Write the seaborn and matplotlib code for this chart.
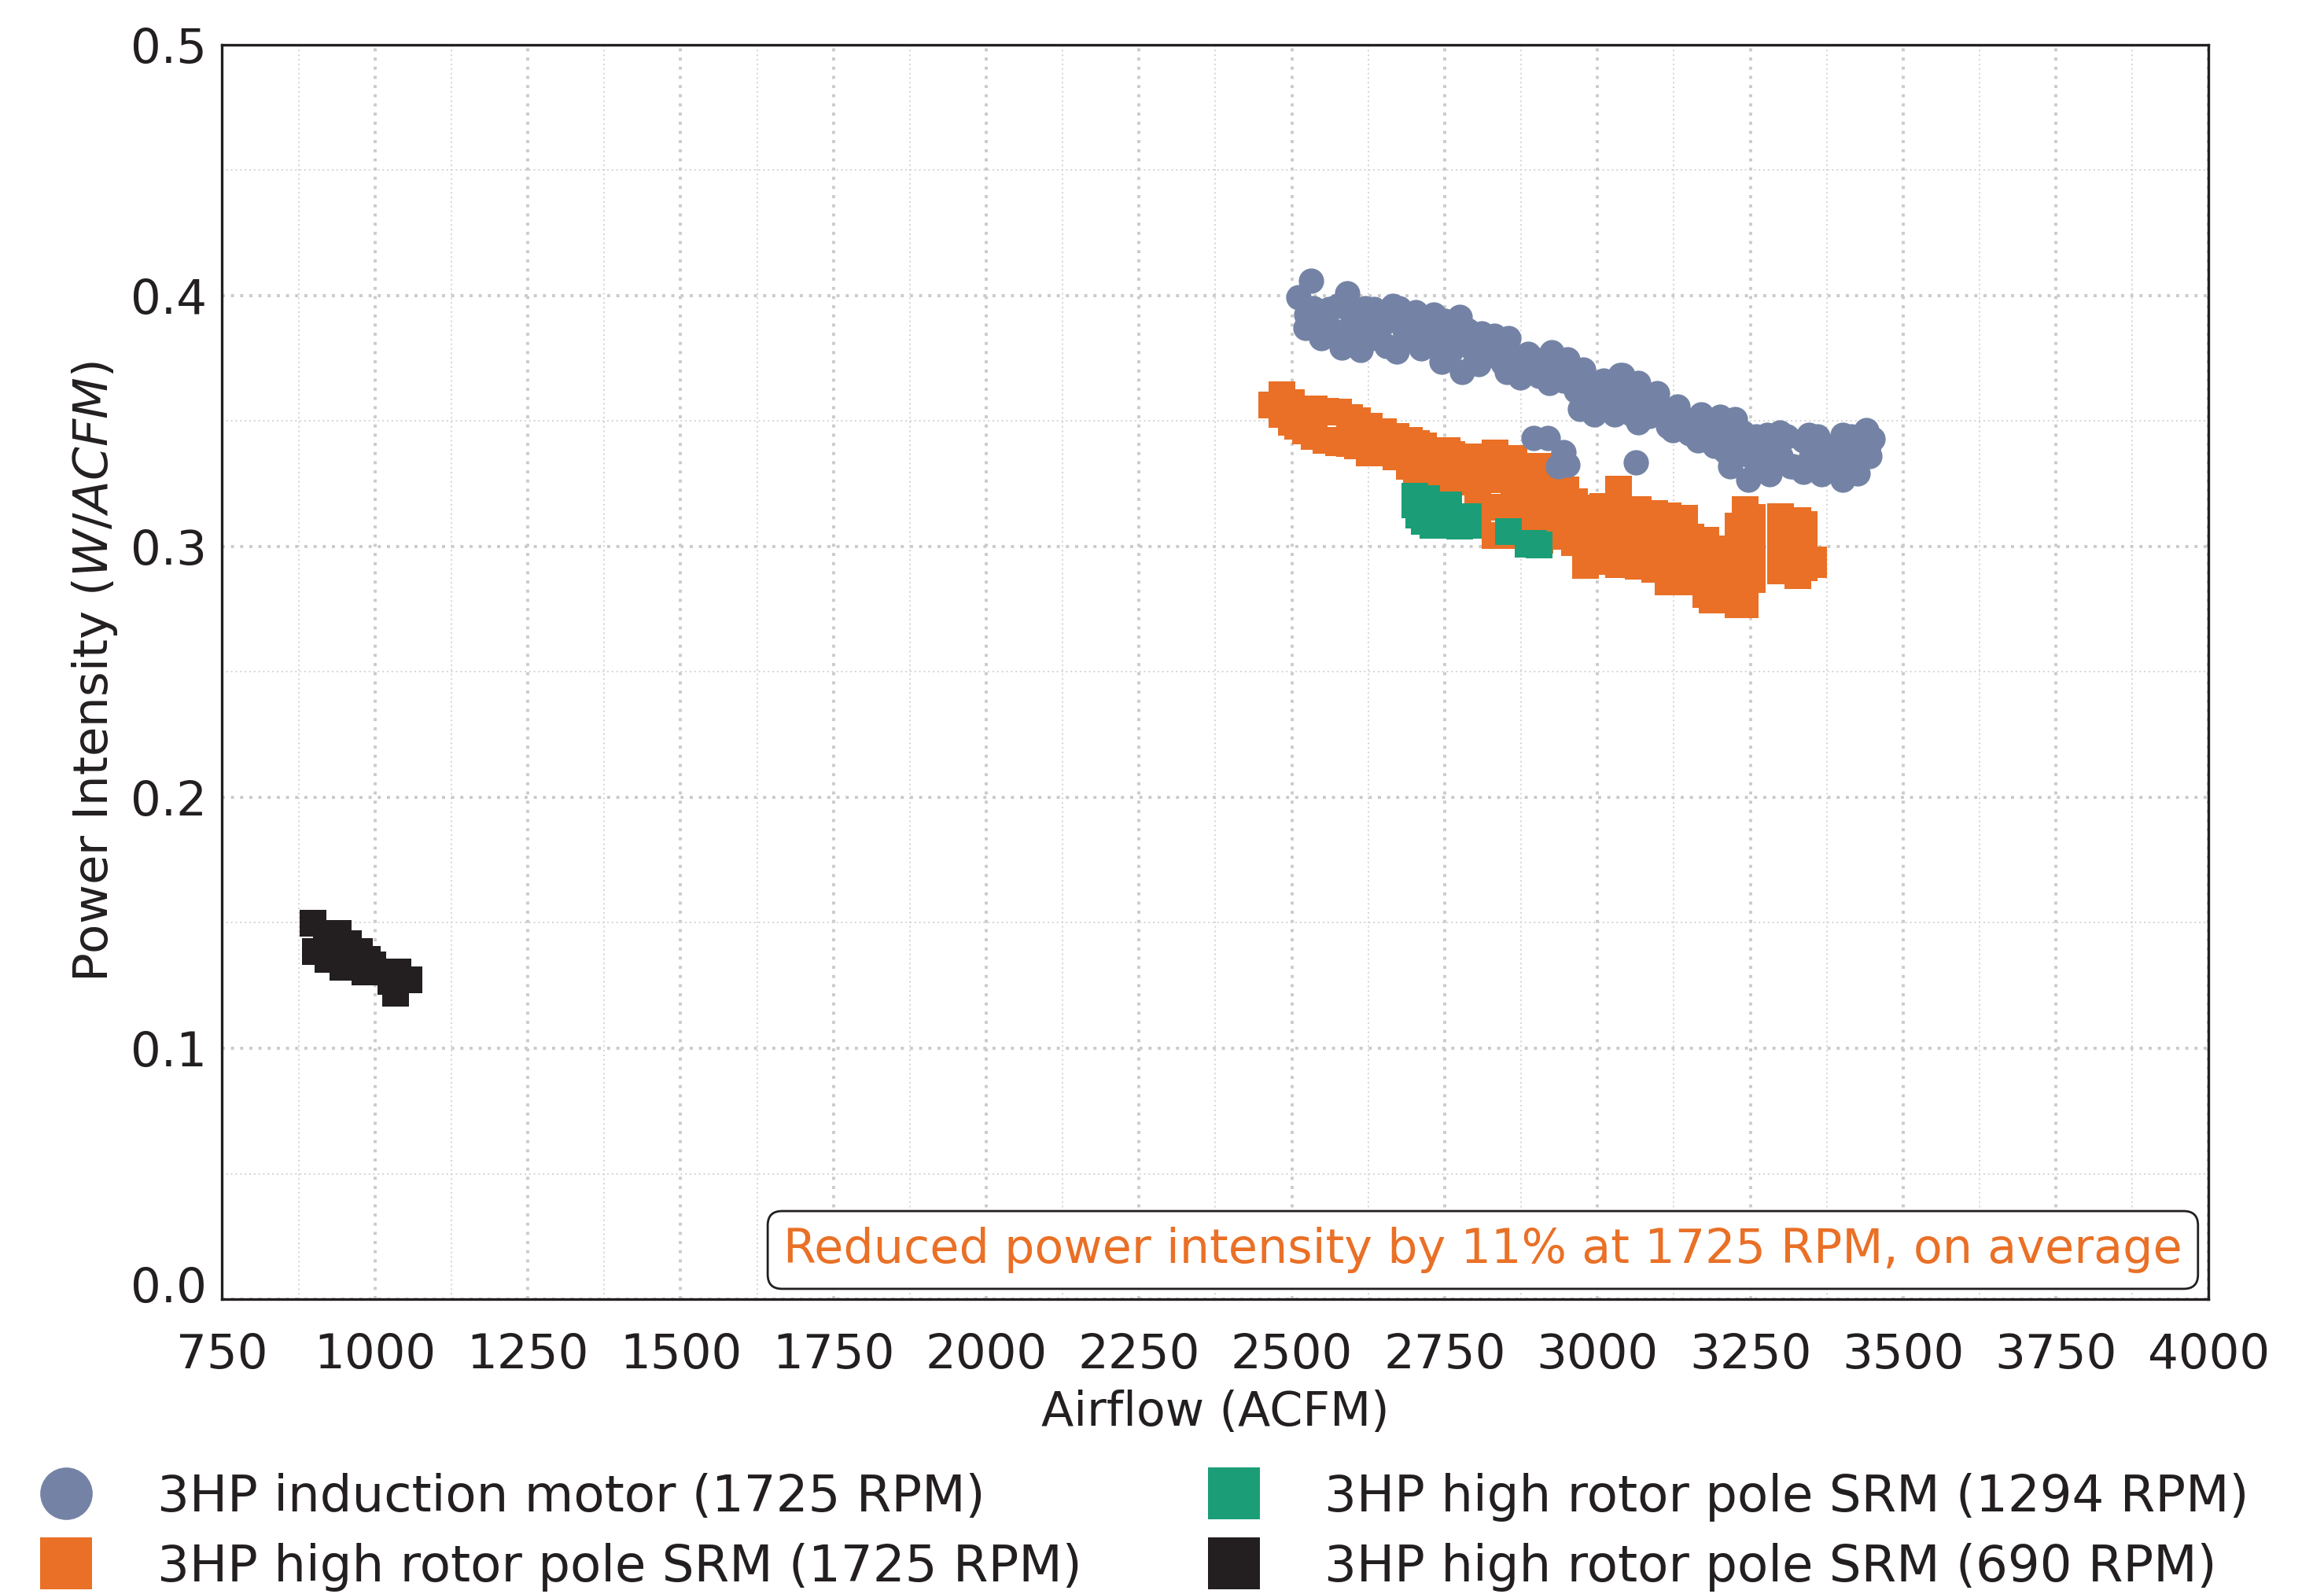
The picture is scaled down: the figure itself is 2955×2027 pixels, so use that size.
import matplotlib
matplotlib.use("Agg")
import matplotlib.pyplot as plt
import matplotlib.transforms as mtransforms
from matplotlib.lines import Line2D
from matplotlib.ticker import MultipleLocator, FormatStrFormatter
import seaborn as sns
import pandas as pd

# ---- measurements: airflow (ACFM) vs power intensity (W/ACFM) ----
induction_1725_acfm = [
    2531, 2511, 2524, 2522, 2548, 2582, 2612, 2591, 2599, 2561, 2634, 2642,
    2672, 2676, 2702, 2711, 2732, 2685, 2745, 2728, 2775, 2788, 2779, 2805,
    2831, 2854, 2814, 2852, 2874, 2887, 2925, 2921, 2951, 2977, 2972, 2994,
    2994, 3028, 3037, 3054, 3041, 3067, 3067, 3097, 3123, 3131, 3165, 3170,
    3200, 3191, 3225, 3238, 3217, 3247, 3238, 3277, 3281, 3298, 3316, 3337,
    3346, 3337, 3367, 3376, 3401, 3401, 3423, 3440, 3444, 3436,
    2896, 2919, 2944, 2951, 2936, 3063,
    2535, 2540, 2555, 2570, 2575, 2590, 2610, 2620, 2630, 2650, 2655, 2665,
    2690, 2695, 2715, 2740, 2750, 2760, 2765, 2790, 2800, 2810, 2825, 2840,
    2845, 2865, 2880, 2895, 2905, 2915, 2935, 2945, 2960, 2965, 2985, 3000,
    3010, 3015, 3030, 3045, 3055, 3075, 3085, 3105, 3115, 3140, 3150, 3175,
    3185, 3205, 3210, 3230, 3250, 3260, 3265, 3280, 3300, 3310, 3320, 3350,
    3360, 3385, 3390, 3410, 3415, 3425, 3450, 3445,
]
induction_1725_pi = [
    0.4061, 0.3993, 0.3925, 0.3872, 0.3831, 0.3794, 0.3784, 0.4008, 0.3914, 0.3946, 0.3946, 0.3831,
    0.3778, 0.3951, 0.3935, 0.3789, 0.3925, 0.3862, 0.3737, 0.3831, 0.3914, 0.3862, 0.3695, 0.3726,
    0.3841, 0.3831, 0.3778, 0.3695, 0.3674, 0.3768, 0.3773, 0.3653, 0.3747, 0.3705, 0.3548, 0.3528,
    0.3632, 0.3528, 0.3684, 0.3632, 0.3684, 0.3653, 0.3496, 0.3611, 0.3465, 0.3559, 0.3423, 0.3528,
    0.3517, 0.3402, 0.3507, 0.3455, 0.3319, 0.3266, 0.3381, 0.3444, 0.3287, 0.3455, 0.3319, 0.3423,
    0.3444, 0.3298, 0.3287, 0.3381, 0.3444, 0.3266, 0.3319, 0.3465, 0.3402, 0.3360,
    0.3433, 0.3431, 0.3376, 0.3327, 0.3319, 0.3334,
    0.395, 0.389, 0.392, 0.386, 0.396, 0.384, 0.388, 0.395, 0.383, 0.389, 0.380, 0.396,
    0.391, 0.383, 0.387, 0.382, 0.390, 0.378, 0.385, 0.380, 0.374, 0.385, 0.377, 0.380,
    0.373, 0.376, 0.371, 0.375, 0.368, 0.373, 0.370, 0.366, 0.369, 0.362, 0.364, 0.360,
    0.366, 0.356, 0.361, 0.358, 0.353, 0.358, 0.352, 0.354, 0.348, 0.351, 0.345, 0.347,
    0.343, 0.345, 0.338, 0.340, 0.336, 0.344, 0.332, 0.338, 0.336, 0.344, 0.332, 0.336,
    0.344, 0.333, 0.340, 0.335, 0.344, 0.329, 0.343, 0.336,
]

srm_1725_acfm = [
    2467,
    2484, 2484,
    2499, 2499,
    2509, 2509,
    2522, 2522,
    2536, 2536,
    2556, 2556,
    2576, 2576,
    2595, 2595,
    2607, 2607,
    2627, 2627,
    2650, 2650,
    2670, 2670,
    2692, 2692,
    2704, 2704, 2704,
    2715, 2715,
    2754, 2754,
    2762, 2762,
    2790, 2790,
    2804, 2804, 2804,
    2833, 2833, 2833, 2833,
    2863, 2863, 2863, 2863,
    2906, 2906, 2906, 2906,
    2948, 2948, 2948,
    2963, 2963, 2963,
    2981, 2981, 2981, 2981,
    3009, 3009, 3009, 3009,
    3035, 3035, 3035, 3035,
    3052, 3052,
    3067, 3067, 3067, 3067,
    3093, 3093, 3093, 3093,
    3116, 3116, 3116, 3116,
    3143, 3143, 3143, 3143,
    3153, 3153, 3153,
    3177, 3177, 3177, 3177,
    3187, 3187, 3187, 3187,
    3230, 3230, 3230, 3230, 3230,
    3242, 3242, 3242, 3242, 3242, 3242,
    3253, 3253, 3253, 3253,
    3299, 3299, 3299, 3299,
    3328, 3328, 3328, 3328,
    3338, 3338, 3338,
    3353, 3353,
]
srm_1725_pi = [
    0.3564,
    0.3606, 0.3528,
    0.3573, 0.3494,
    0.3548, 0.3478,
    0.3547, 0.3462,
    0.3547, 0.3438,
    0.3538, 0.3423,
    0.3535, 0.3415,
    0.3514, 0.3411,
    0.3500, 0.3402,
    0.3479, 0.3373,
    0.3458, 0.3373,
    0.3439, 0.3357,
    0.3423, 0.3319,
    0.3411, 0.3308, 0.3256,
    0.3402, 0.3298,
    0.3381, 0.3277,
    0.3366, 0.3266,
    0.3358, 0.3256,
    0.3340, 0.3225, 0.3120,
    0.3374, 0.3266, 0.3157, 0.3044,
    0.3352, 0.3245, 0.3141, 0.3044,
    0.3319, 0.3214, 0.3110, 0.3026,
    0.3225, 0.3130, 0.3042,
    0.3178, 0.3099, 0.3016,
    0.3153, 0.3068, 0.2995, 0.2925,
    0.3160, 0.3078, 0.3005, 0.2939,
    0.3228, 0.3131, 0.3026, 0.2929,
    0.3148, 0.2929,
    0.3148, 0.3068, 0.2995, 0.2922,
    0.3131, 0.3047, 0.2974, 0.2909,
    0.3122, 0.3036, 0.2948, 0.2859,
    0.3112, 0.3026, 0.2942, 0.2859,
    0.3039, 0.2963, 0.2885,
    0.3026, 0.2953, 0.2880, 0.2810,
    0.2991, 0.2922, 0.2848, 0.2786,
    0.3080, 0.3005, 0.2922, 0.2838, 0.2768,
    0.3148, 0.3068, 0.2995, 0.2922, 0.2838, 0.2768,
    0.3115, 0.3026, 0.2942, 0.2867,
    0.3120, 0.3036, 0.2974, 0.2904,
    0.3102, 0.3026, 0.2953, 0.2885,
    0.3089, 0.3005, 0.2914,
    0.2946, 0.2927,
]

srm_1294_acfm = [2701, 2701, 2708, 2717, 2731, 2720, 2757, 2745, 2775, 2789, 2789, 2758,
                 2854, 2887, 2896, 2905]
srm_1294_pi = [0.3202, 0.3167, 0.3125, 0.3099, 0.3083, 0.3190, 0.3167, 0.3131, 0.3081, 0.3120,
               0.3086, 0.3083, 0.3060, 0.3010, 0.3013, 0.3007]

srm_690_acfm = [899, 903, 923, 940, 948, 957, 974, 983, 987, 996, 1034, 1038, 1055, 1026,
                920, 960]
srm_690_pi = [0.1498, 0.1386, 0.1354, 0.1459, 0.1323, 0.1417, 0.1386, 0.1304, 0.1354, 0.1333,
              0.1219, 0.1305, 0.1273, 0.1268, 0.1440, 0.1360]

series_labels = [
    "3HP induction motor (1725 RPM)",
    "3HP high rotor pole SRM (1725 RPM)",
    "3HP high rotor pole SRM (1294 RPM)",
    "3HP high rotor pole SRM (690 RPM)",
]
x_ticks = [750, 1000, 1250, 1500, 1750, 2000, 2250, 2500, 2750, 3000, 3250, 3500, 3750, 4000]
note_text = "Reduced power intensity by 11% at 1725 RPM, on average"

# ---- style ----
BLUE = "#7483A5"
ORANGE = "#E97026"
TEAL = "#1B9E77"
BLACK = "#231F20"
INK = "#231F20"

sns.set_theme(style="white")
plt.rcParams["font.family"] = ["DejaVu Sans"]
plt.rcParams["text.color"] = INK
plt.rcParams["axes.labelcolor"] = INK
plt.rcParams["xtick.color"] = INK
plt.rcParams["ytick.color"] = INK

fig = plt.figure(figsize=(29.55, 20.27), dpi=100)
ax = fig.add_axes([0.0956, 0.1850, 0.9504 - 0.0956, 0.9719 - 0.1850])

frames = {
    "ind": pd.DataFrame({"acfm": induction_1725_acfm, "pi": induction_1725_pi}),
    "s1725": pd.DataFrame({"acfm": srm_1725_acfm, "pi": srm_1725_pi}),
    "s1294": pd.DataFrame({"acfm": srm_1294_acfm, "pi": srm_1294_pi}),
    "s690": pd.DataFrame({"acfm": srm_690_acfm, "pi": srm_690_pi}),
}

SQ = 565
CI = 540
sns.scatterplot(data=frames["s1725"], x="acfm", y="pi", ax=ax, marker="s", s=SQ,
                color=ORANGE, linewidth=0, zorder=3, legend=False)
sns.scatterplot(data=frames["ind"], x="acfm", y="pi", ax=ax, marker="o", s=CI,
                color=BLUE, linewidth=0, zorder=4, legend=False)
sns.scatterplot(data=frames["s1294"], x="acfm", y="pi", ax=ax, marker="s", s=SQ,
                color=TEAL, linewidth=0, zorder=4, legend=False)
sns.scatterplot(data=frames["s690"], x="acfm", y="pi", ax=ax, marker="s", s=SQ,
                color=BLACK, linewidth=0, zorder=4, legend=False)

# ---- axes ----
ax.set_xlim(750, 4000)
ax.set_ylim(0.0, 0.5)
ax.set_xticks(x_ticks)
ax.xaxis.set_minor_locator(MultipleLocator(125))
ax.yaxis.set_major_locator(MultipleLocator(0.1))
ax.yaxis.set_minor_locator(MultipleLocator(0.05))
ax.yaxis.set_major_formatter(FormatStrFormatter("%.1f"))
ax.tick_params(axis="both", which="both", length=0, labelsize=44)
ax.tick_params(axis="x", pad=30)
ax.tick_params(axis="y", pad=14)

ax.grid(True, which="major", color="#CBCBCB", linewidth=2.8, linestyle=(0, (1, 2)))
ax.grid(True, which="minor", color="#D4D4D4", linewidth=1.4, linestyle=(0, (1, 2)))
ax.set_axisbelow(True)

for sp in ax.spines.values():
    sp.set_visible(True)
    sp.set_color(INK)
    sp.set_linewidth(2.4)

ax.set_xlabel("Airflow (ACFM)", fontsize=43.5, labelpad=10)
ax.set_ylabel("Power Intensity ($W/ACFM$)", fontsize=44, labelpad=10)

# lift the bottom y tick label so it sits on the axis line
fig.canvas.draw()
lift = mtransforms.ScaledTranslation(0, 14 / 72, fig.dpi_scale_trans)
for tick in ax.yaxis.get_major_ticks():
    if abs(tick.get_loc()) < 1e-9:
        tick.label1.set_transform(tick.label1.get_transform() + lift)

# ---- annotation box ----
ax.text(0.9867, 0.0207, note_text, transform=ax.transAxes, ha="right", va="bottom",
        fontsize=43.5, color=ORANGE, zorder=6,
        bbox=dict(boxstyle="round,pad=0.33,rounding_size=0.3", facecolor="white",
                  edgecolor=INK, linewidth=2.0))

# ---- legend below the axes ----
handles = [
    Line2D([], [], linestyle="none", marker="o", markersize=48, markerfacecolor=BLUE,
           markeredgewidth=0),
    Line2D([], [], linestyle="none", marker="s", markersize=48, markerfacecolor=ORANGE,
           markeredgewidth=0),
    Line2D([], [], linestyle="none", marker="s", markersize=48, markerfacecolor=TEAL,
           markeredgewidth=0),
    Line2D([], [], linestyle="none", marker="s", markersize=48, markerfacecolor=BLACK,
           markeredgewidth=0),
]
fig.legend(handles, series_labels, ncol=2, loc="upper left",
           bbox_to_anchor=(0.0176, 0.076), frameon=False, fontsize=46.3,
           handlelength=1.0, handletextpad=1.3, columnspacing=2.5, labelspacing=0.42,
           borderpad=0, borderaxespad=0)

fig.savefig("out.png", dpi=100)
